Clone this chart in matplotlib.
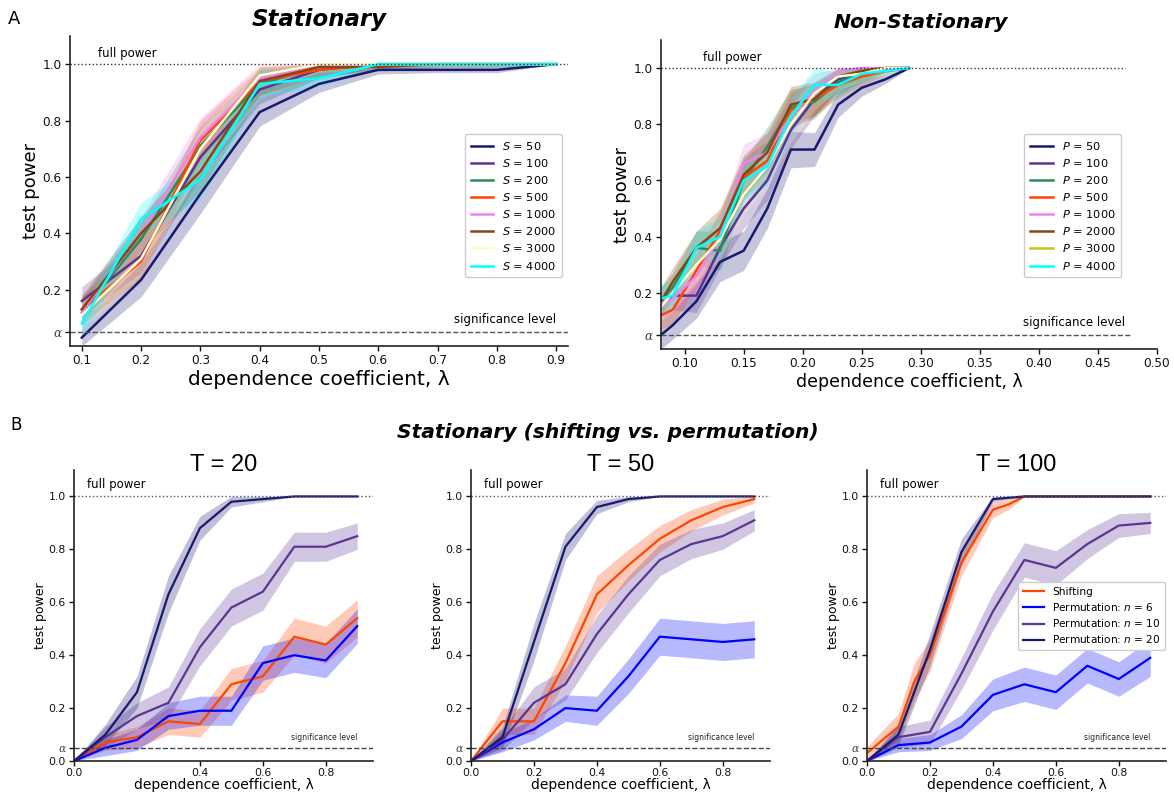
import numpy as np
import matplotlib
matplotlib.use("Agg")
import matplotlib.pyplot as plt
from matplotlib.lines import Line2D

plt.rcParams['font.family'] = ['DejaVu Sans']
plt.rcParams['mathtext.fontset'] = 'dejavusans'

# ---------------- data: panel A, stationary ----------------
x_stat = [0.1, 0.2, 0.3, 0.4, 0.5, 0.6, 0.7, 0.8, 0.9]
S_labels = ['50', '100', '200', '500', '1000', '2000', '3000', '4000']
S50 = [0.03, 0.235, 0.54, 0.83, 0.93, 0.98, 0.98, 0.98, 1.0]
S100 = [0.16, 0.32, 0.67, 0.91, 0.98, 1.0, 1.0, 1.0, 1.0]
S200 = [0.12, 0.38, 0.71, 0.93, 0.99, 1.0, 1.0, 1.0, 1.0]
S500 = [0.13, 0.30, 0.73, 0.94, 0.98, 1.0, 1.0, 1.0, 1.0]
S1000 = [0.12, 0.40, 0.74, 0.95, 0.99, 1.0, 1.0, 1.0, 1.0]
S2000 = [0.13, 0.40, 0.62, 0.94, 0.99, 0.99, 1.0, 1.0, 1.0]
S3000 = [0.11, 0.31, 0.70, 0.96, 1.0, 1.0, 1.0, 1.0, 1.0]
S4000 = [0.08, 0.45, 0.59, 0.93, 0.95, 1.0, 1.0, 1.0, 1.0]
err_stat = [0.05, 0.06, 0.07, 0.05, 0.03, 0.015, 0.01, 0.01, 0.0]

# ---------------- data: panel A, non-stationary ----------------
x_nonstat = [0.08, 0.09, 0.11, 0.13, 0.15, 0.17, 0.19, 0.21, 0.23, 0.25, 0.27, 0.29]
P_labels = ['50', '100', '200', '500', '1000', '2000', '3000', '4000']
P50 = [0.05, 0.085, 0.17, 0.31, 0.35, 0.50, 0.71, 0.71, 0.87, 0.93, 0.96, 1.0]
P100 = [0.15, 0.19, 0.19, 0.36, 0.50, 0.60, 0.78, 0.89, 0.96, 0.98, 1.0, 1.0]
P200 = [0.17, 0.22, 0.36, 0.35, 0.60, 0.72, 0.86, 0.88, 0.95, 0.98, 1.0, 1.0]
P500 = [0.12, 0.14, 0.28, 0.42, 0.61, 0.67, 0.85, 0.89, 0.94, 0.97, 0.99, 1.0]
P1000 = [0.15, 0.18, 0.26, 0.40, 0.66, 0.70, 0.83, 0.92, 0.99, 1.0, 1.0, 1.0]
P2000 = [0.17, 0.24, 0.36, 0.43, 0.62, 0.70, 0.87, 0.89, 0.97, 0.99, 1.0, 1.0]
P3000 = [0.15, 0.20, 0.30, 0.39, 0.55, 0.65, 0.80, 0.91, 0.97, 0.98, 1.0, 1.0]
P4000 = [0.18, 0.19, 0.36, 0.40, 0.60, 0.65, 0.83, 0.94, 0.94, 0.98, 0.99, 1.0]
err_nonstat = [0.05, 0.05, 0.06, 0.07, 0.07, 0.07, 0.065, 0.06, 0.045, 0.03, 0.015, 0.0]

# ---------------- data: panel B ----------------
x_b = [0.0, 0.1, 0.2, 0.3, 0.4, 0.5, 0.6, 0.7, 0.8, 0.9]
x_shift100 = [0.0, 0.1, 0.15, 0.2, 0.3, 0.4, 0.45, 0.5, 0.6, 0.7, 0.8, 0.9]
T_values = ['20', '50', '100']

T20_shift = [0.0, 0.07, 0.09, 0.15, 0.14, 0.29, 0.32, 0.47, 0.44, 0.54]
T20_n6 = [0.0, 0.05, 0.08, 0.17, 0.19, 0.19, 0.37, 0.40, 0.38, 0.51]
T20_n10 = [0.0, 0.09, 0.17, 0.22, 0.43, 0.58, 0.64, 0.81, 0.81, 0.85]
T20_n20 = [0.0, 0.10, 0.26, 0.63, 0.88, 0.98, 0.99, 1.0, 1.0, 1.0]
T20_shift_err = [0.0, 0.03, 0.04, 0.05, 0.05, 0.06, 0.06, 0.07, 0.07, 0.07]
T20_n6_err = [0.0, 0.03, 0.04, 0.05, 0.055, 0.055, 0.065, 0.065, 0.065, 0.065]
T20_n10_err = [0.0, 0.04, 0.05, 0.06, 0.07, 0.07, 0.07, 0.055, 0.055, 0.05]
T20_n20_err = [0.0, 0.04, 0.06, 0.07, 0.045, 0.02, 0.01, 0.0, 0.0, 0.0]

T50_shift = [0.0, 0.15, 0.15, 0.37, 0.63, 0.74, 0.84, 0.91, 0.96, 0.99]
T50_n6 = [0.0, 0.07, 0.12, 0.20, 0.19, 0.32, 0.47, 0.46, 0.45, 0.46]
T50_n10 = [0.0, 0.08, 0.22, 0.29, 0.48, 0.63, 0.76, 0.82, 0.85, 0.91]
T50_n20 = [0.0, 0.09, 0.45, 0.81, 0.96, 0.99, 1.0, 1.0, 1.0, 1.0]
T50_shift_err = [0.0, 0.05, 0.05, 0.065, 0.07, 0.06, 0.05, 0.04, 0.03, 0.015]
T50_n6_err = [0.0, 0.035, 0.04, 0.05, 0.055, 0.065, 0.07, 0.07, 0.07, 0.07]
T50_n10_err = [0.0, 0.04, 0.06, 0.06, 0.07, 0.07, 0.06, 0.055, 0.05, 0.04]
T50_n20_err = [0.0, 0.04, 0.07, 0.05, 0.025, 0.01, 0.0, 0.0, 0.0, 0.0]

T100_shift = [0.03, 0.13, 0.30, 0.40, 0.75, 0.95, 0.97, 1.0, 1.0, 1.0, 1.0, 1.0]
T100_n6 = [0.0, 0.06, 0.07, 0.13, 0.25, 0.29, 0.26, 0.36, 0.31, 0.39]
T100_n10 = [0.0, 0.09, 0.11, 0.33, 0.565, 0.76, 0.73, 0.82, 0.89, 0.90]
T100_n20 = [0.0, 0.10, 0.42, 0.79, 0.99, 1.0, 1.0, 1.0, 1.0, 1.0]
T100_shift_err = [0.025, 0.05, 0.07, 0.06, 0.05, 0.03, 0.02, 0.0, 0.0, 0.0, 0.0, 0.0]
T100_n6_err = [0.0, 0.025, 0.03, 0.045, 0.06, 0.065, 0.065, 0.065, 0.065, 0.07]
T100_n10_err = [0.0, 0.04, 0.045, 0.06, 0.07, 0.065, 0.065, 0.055, 0.045, 0.04]
T100_n20_err = [0.0, 0.04, 0.06, 0.05, 0.01, 0.0, 0.0, 0.0, 0.0, 0.0]

method_labels = ['Shifting', 'Permutation: $n$ = 6', 'Permutation: $n$ = 10', 'Permutation: $n$ = 20']

# ---------------- styling ----------------
size_colors = ['midnightblue', '#5b3494', 'seagreen', 'orangered', 'violet',
               'saddlebrown', 'lemonchiffon', 'cyan']
P_legend_colors = ['midnightblue', '#5b3494', 'seagreen', 'orangered', 'violet',
                   'saddlebrown', '#c8c814', 'cyan']
method_colors = ['orangered', 'blue', '#5b3494', 'midnightblue']
SPINE = '#222222'

W, H = 1174, 796
fig = plt.figure(figsize=(W / 100, H / 100), dpi=100)


def fax(l, t, r, b):
    return fig.add_axes([l / W, 1 - b / H, (r - l) / W, (b - t) / H])


def style(ax, tick_fs):
    for s in ['top', 'right']:
        ax.spines[s].set_visible(False)
    for s in ['left', 'bottom']:
        ax.spines[s].set_color(SPINE)
        ax.spines[s].set_linewidth(1.2)
    ax.tick_params(labelsize=tick_fs, length=3.5, width=1, colors='#111111', pad=2.5)


def alpha_tick(ax):
    for t in ax.get_yticklabels():
        if t.get_text() == 'α':
            t.set_fontfamily('DejaVu Serif')
            t.set_fontstyle('italic')
            t.set_color('#444444')


def band(ax, x, y, e, c, lw=1.6, a=0.28, label=None):
    y = np.asarray(y)
    e = np.asarray(e)
    ax.fill_between(x, np.clip(y - e, 0, 1), np.clip(y + e, 0, 1), color=c,
                    alpha=a, linewidth=0)
    ax.plot(x, y, color=c, lw=lw, label=label)


# ---------------- Panel A left ----------------
ax1 = fax(70, 36, 568, 346)
S_series = [S50, S100, S200, S500, S1000, S2000, S3000, S4000]
for ys, c, lab in zip(S_series, size_colors, S_labels):
    band(ax1, x_stat, ys, err_stat, c, lw=1.8, a=0.25, label='$S$ = ' + lab)
ax1.axhline(1.0, color='#333333', ls=':', lw=1)
ax1.axhline(0.05, color='#555555', ls='--', lw=1)
ax1.set_xlim(0.08, 0.92)
ax1.set_ylim(0, 1.1)
ax1.set_xticks(x_stat)
ax1.set_yticks([0.05, 0.2, 0.4, 0.6, 0.8, 1.0])
ax1.set_yticklabels(['α', '0.2', '0.4', '0.6', '0.8', '1.0'])
style(ax1, 8.7)
alpha_tick(ax1)
ax1.text(0.056, 1.015, 'full power', transform=ax1.get_yaxis_transform(),
         fontsize=8.5, va='bottom')
ax1.text(0.976, 0.094, 'significance level', transform=ax1.get_yaxis_transform(),
         fontsize=8.5, va='center', ha='right')
ax1.set_ylabel('test power', fontsize=13, labelpad=2)
ax1.set_xlabel('dependence coefficient, λ', fontsize=14.5, labelpad=2)
ax1.legend(loc='upper left', bbox_to_anchor=(0.793, 0.684), fontsize=8.2,
           framealpha=1, edgecolor='#cccccc', handlelength=2.0, labelspacing=0.45,
           borderpad=0.5, borderaxespad=0)
ax1.set_title('Stationary', fontsize=16.5, fontweight='bold', fontstyle='italic', pad=7)

# ---------------- Panel A right ----------------
ax2 = fax(661, 40, 1157, 349)
P_series = [P50, P100, P200, P500, P1000, P2000, P3000, P4000]
for ys, c in zip(P_series, size_colors):
    band(ax2, x_nonstat, ys, err_nonstat, c, lw=1.8, a=0.25)
ax2.axhline(1.0, xmax=0.935, color='#333333', ls=':', lw=1)
ax2.axhline(0.05, xmax=0.95, color='#555555', ls='--', lw=1)
ax2.set_xlim(0.08, 0.50)
ax2.set_ylim(0, 1.1)
ax2.set_xticks([0.10, 0.15, 0.20, 0.25, 0.30, 0.35, 0.40, 0.45, 0.50])
ax2.set_xticklabels(['0.10', '0.15', '0.20', '0.25', '0.30', '0.35', '0.40', '0.45', '0.50'])
ax2.set_yticks([0.05, 0.2, 0.4, 0.6, 0.8, 1.0])
ax2.set_yticklabels(['α', '0.2', '0.4', '0.6', '0.8', '1.0'])
style(ax2, 8.7)
alpha_tick(ax2)
ax2.text(0.085, 1.015, 'full power', transform=ax2.get_yaxis_transform(),
         fontsize=8.5, va='bottom')
ax2.text(0.935, 0.094, 'significance level', transform=ax2.get_yaxis_transform(),
         fontsize=8.5, va='center', ha='right')
ax2.set_ylabel('test power', fontsize=13, labelpad=2)
ax2.set_xlabel('dependence coefficient, λ', fontsize=12.5, labelpad=2)
handles2 = [Line2D([], [], color=c, lw=1.8) for c in P_legend_colors]
ax2.legend(handles2, ['$P$ = ' + p for p in P_labels], loc='upper left',
           bbox_to_anchor=(0.732, 0.696), fontsize=8.2, framealpha=1,
           edgecolor='#cccccc', handlelength=2.0, labelspacing=0.45, borderpad=0.5,
           borderaxespad=0)
fig.text(921 / W, 1 - 22 / H, 'Non-Stationary', fontsize=14.7, fontweight='bold',
         fontstyle='italic', ha='center', va='center')

# ---------------- Panel B ----------------
lefts = [74, 471, 867]
shift_x = [x_b, x_b, x_shift100]
series_B = [
    ([T20_shift, T20_n6, T20_n10, T20_n20],
     [T20_shift_err, T20_n6_err, T20_n10_err, T20_n20_err]),
    ([T50_shift, T50_n6, T50_n10, T50_n20],
     [T50_shift_err, T50_n6_err, T50_n10_err, T50_n20_err]),
    ([T100_shift, T100_n6, T100_n10, T100_n20],
     [T100_shift_err, T100_n6_err, T100_n10_err, T100_n20_err]),
]
xtick_sets = [[0.0, 0.4, 0.6, 0.8], [0.0, 0.2, 0.4, 0.6, 0.8], [0.0, 0.2, 0.4, 0.6, 0.8]]
for i, (lft, (ys_list, es_list)) in enumerate(zip(lefts, series_B)):
    ax = fax(lft, 470, lft + 299, 761)
    for j, (ys, es, c, lab) in enumerate(zip(ys_list, es_list, method_colors, method_labels)):
        xx = shift_x[i] if j == 0 else x_b
        band(ax, xx, ys, es, c, lw=1.6, a=0.28, label=lab)
    ax.axhline(1.0, color='#555555', ls=':', lw=1)
    ax.axhline(0.05, color='#444444', ls='--', lw=1)
    ax.set_xlim(0, 0.95)
    ax.set_ylim(0, 1.1)
    ax.set_xticks(xtick_sets[i])
    ax.set_xticklabels(['%.1f' % v for v in xtick_sets[i]])
    ax.set_yticks([0.0, 0.05, 0.2, 0.4, 0.6, 0.8, 1.0])
    ax.set_yticklabels(['0.0', 'α', '0.2', '0.4', '0.6', '0.8', '1.0'])
    style(ax, 7.8)
    ax.tick_params(axis='x', pad=1.5)
    alpha_tick(ax)
    ax.text(0.045, 1.045, 'full power', transform=ax.get_yaxis_transform(),
            fontsize=8.5, va='center')
    ax.text(0.9, 0.09, 'significance level', fontsize=5.5, va='center', ha='right',
            color='#222222')
    ax.set_ylabel('test power', fontsize=9, labelpad=1)
    ax.set_xlabel('dependence coefficient, λ', fontsize=10, labelpad=0)
    fig.text((lft + 149.5) / W, 1 - 465 / H, 'T = ' + T_values[i], fontsize=17,
             family='Liberation Sans', ha='center', va='center')
    if i == 2:
        ax.legend(loc='upper left', bbox_to_anchor=(0.505, 0.615), fontsize=7.6,
                  framealpha=1, edgecolor='#cccccc', handlelength=2.0,
                  labelspacing=0.4, borderpad=0.45, borderaxespad=0)

fig.text(608 / W, 1 - 432 / H, 'Stationary (shifting vs. permutation)', fontsize=14.6,
         fontweight='bold', fontstyle='italic', ha='center', va='center')
fig.text(8 / W, 1 - 19 / H, 'A', fontsize=13, va='center')
fig.text(10 / W, 1 - 425 / H, 'B', fontsize=12, va='center')

fig.savefig('out.png', dpi=100)
